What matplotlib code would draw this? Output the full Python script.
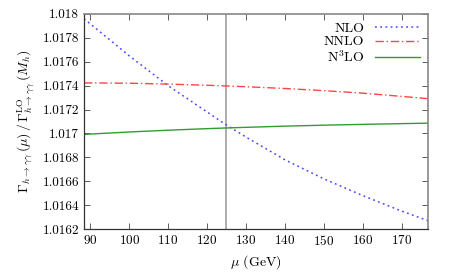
import numpy as np
import matplotlib
matplotlib.use("Agg")
import matplotlib.pyplot as plt
from matplotlib.ticker import FuncFormatter, MultipleLocator

plt.rcParams['font.family'] = 'serif'
plt.rcParams['font.serif'] = ['cmr10']
plt.rcParams['mathtext.fontset'] = 'cm'
plt.rcParams['axes.formatter.use_mathtext'] = True

# scale mu (GeV) and ratios
mu = [88.4, 100, 110, 120, 125, 130, 140, 150, 160, 170, 176.8]
nlo = [1.01796, 1.01765, 1.01740, 1.01718, 1.01707, 1.01697, 1.01678,
       1.01662, 1.01648, 1.01635, 1.01627]
nnlo = [1.017423, 1.017420, 1.017413, 1.017403, 1.017397, 1.017391,
        1.017376, 1.017358, 1.017337, 1.017310, 1.017291]
n3lo = [1.016992, 1.017012, 1.017027, 1.017040, 1.017046, 1.017051,
        1.017061, 1.017069, 1.017076, 1.017082, 1.017086]
m_higgs = 125

fig = plt.figure(figsize=(4.54, 2.73), dpi=100)
ax = fig.add_axes([0.185, 0.161, 0.758, 0.788])

ax.axvline(m_higgs, color='#a0a0a0', lw=1.2, zorder=1)
ax.plot(mu, nlo, color='#4848ff', ls=(0, (1.2, 2.2)), lw=1.1, label='NLO')
ax.plot(mu, nnlo, color='#ff4545', ls=(0, (6, 2, 1, 2)), lw=1.0, label='NNLO')
ax.plot(mu, n3lo, color='#2f9e2f', ls='-', lw=1.0, label=r'N$^3$LO')

ax.set_xlim(88.4, 176.8)
ax.set_ylim(1.0162, 1.018)
ax.xaxis.set_major_locator(MultipleLocator(10))
ax.yaxis.set_major_locator(MultipleLocator(0.0002))
ax.yaxis.set_major_formatter(FuncFormatter(lambda v, p: '%g' % round(v, 6)))
ax.tick_params(direction='in', top=True, right=True, labelsize=9.5,
               length=4, width=0.6, color='#444444')

for s in ['top', 'right']:
    ax.spines[s].set_color('#888888')
    ax.spines[s].set_linewidth(1.2)
for s in ['left', 'bottom']:
    ax.spines[s].set_color('#333333')
    ax.spines[s].set_linewidth(0.9)

ax.set_xlabel(r'$\mu$ (GeV)', fontsize=10)
ax.set_ylabel(r'$\Gamma_{h\to\gamma\gamma}\,(\mu)\,/\,\Gamma^{\rm LO}_{h\to\gamma\gamma}\,(M_h)$',
              fontsize=10)

ax.legend(loc='upper right', frameon=False, markerfirst=False, fontsize=10,
          handlelength=3.2, labelspacing=0.05, borderaxespad=0.2,
          handletextpad=0.8)

fig.savefig('out.png', dpi=100)
